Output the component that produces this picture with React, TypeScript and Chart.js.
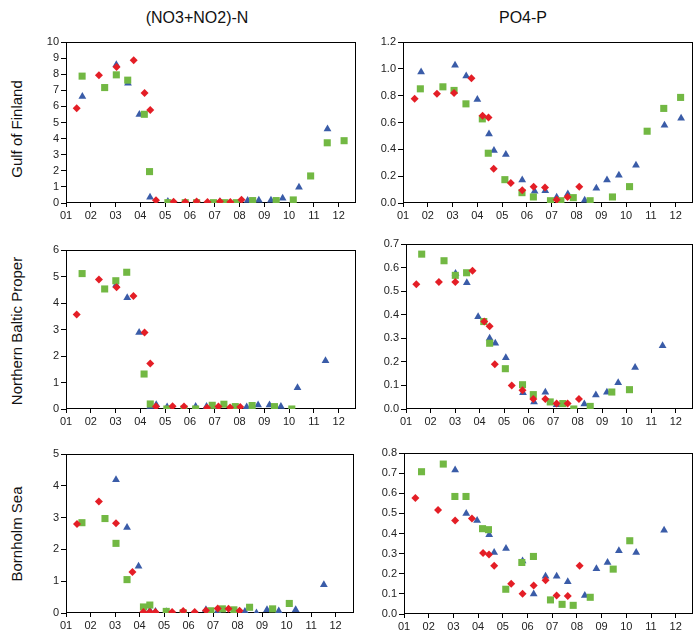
import React, { useEffect, useRef } from "react";
import { Chart, registerables } from "chart.js";
Chart.register(...registerables);

// ---------- DATA ----------
const monthTicks = [1, 2, 3, 4, 5, 6, 7, 8, 9, 10, 11, 12];
const monthLabels = ["01", "02", "03", "04", "05", "06", "07", "08", "09", "10", "11", "12"];

const columnTitles = ["(NO3+NO2)-N", "PO4-P"];
const rowTitles = ["Gulf of Finland", "Northern Baltic Proper", "Bornholm Sea"];

const nitTicksGof = [0, 1, 2, 3, 4, 5, 6, 7, 8, 9, 10];
const phoTicksGof = [0, 0.2, 0.4, 0.6, 0.8, 1.0, 1.2];
const nitTicksNbp = [0, 1, 2, 3, 4, 5, 6];
const phoTicksNbp = [0, 0.1, 0.2, 0.3, 0.4, 0.5, 0.6, 0.7];
const nitTicksBs = [0, 1, 2, 3, 4, 5];
const phoTicksBs = [0, 0.1, 0.2, 0.3, 0.4, 0.5, 0.6, 0.7, 0.8];

// Gulf of Finland, (NO3+NO2)-N
const gofNitRed = [[1.43, 5.88], [2.33, 7.94], [3.04, 8.44], [3.73, 8.86], [4.17, 6.84], [4.40, 5.78], [4.63, 0.17], [5.34, 0.08], [5.81, 0.06], [6.27, 0.10], [6.71, 0.06], [7.21, 0.10], [7.63, 0.06], [8.08, 0.20]];
const gofNitBlue = [[1.66, 6.61], [3.03, 8.59], [3.50, 7.44], [3.96, 5.49], [4.39, 0.35], [5.11, 0.10], [7.21, 0.08], [8.33, 0.15], [8.78, 0.17], [9.27, 0.17], [9.74, 0.29], [10.40, 0.98], [11.55, 4.59]];
const gofNitGreen = [[1.65, 7.88], [2.56, 7.17], [3.03, 7.96], [3.49, 7.63], [4.16, 5.51], [4.37, 1.95], [5.11, 0.02], [5.81, 0.02], [6.27, 0.02], [6.95, 0.02], [7.41, 0.02], [7.87, 0.02], [8.53, 0.15], [9.48, 0.15], [10.17, 0.19], [10.87, 1.68], [11.54, 3.74], [12.22, 3.87]];

// Gulf of Finland, PO4-P
const gofPhoRed = [[1.47, 0.777], [2.37, 0.814], [3.06, 0.82], [3.76, 0.929], [4.21, 0.65], [4.45, 0.637], [4.66, 0.256], [5.35, 0.149], [5.81, 0.095], [6.27, 0.122], [6.73, 0.115], [7.20, 0.025], [7.64, 0.045], [8.11, 0.122]];
const gofPhoBlue = [[1.73, 0.976], [3.10, 1.026], [3.55, 0.946], [4.00, 0.772], [4.47, 0.515], [4.67, 0.391], [5.15, 0.361], [5.81, 0.172], [6.31, 0.087], [6.74, 0.092], [7.20, 0.042], [7.65, 0.067], [8.33, 0.02], [8.80, 0.11], [9.23, 0.172], [9.71, 0.207], [10.40, 0.281], [11.55, 0.58], [12.22, 0.632]];
const gofPhoGreen = [[1.70, 0.851], [2.61, 0.866], [3.06, 0.839], [3.54, 0.739], [4.20, 0.627], [4.44, 0.371], [5.11, 0.174], [5.80, 0.077], [6.26, 0.045], [6.95, 0.017], [7.37, 0.017], [7.87, 0.04], [8.55, 0.017], [9.45, 0.045], [10.14, 0.122], [10.85, 0.535], [11.52, 0.705], [12.20, 0.787]];

// Northern Baltic Proper, (NO3+NO2)-N
const nbpNitRed = [[1.43, 3.57], [2.33, 4.89], [3.04, 4.59], [3.72, 4.26], [4.17, 2.89], [4.40, 1.72], [4.63, 0.09], [5.30, 0.10], [5.76, 0.09], [6.69, 0.05], [7.15, 0.09], [7.62, 0.06], [8.03, 0.08]];
const nbpNitBlue = [[3.02, 4.68], [3.47, 4.20], [3.95, 2.89], [4.40, 0.09], [4.64, 0.16], [5.08, 0.08], [6.23, 0.09], [6.67, 0.09], [7.13, 0.01], [8.29, 0.08], [8.75, 0.15], [9.21, 0.15], [9.67, 0.09], [10.34, 0.80], [11.47, 1.82]];
const nbpNitGreen = [[1.65, 5.11], [2.56, 4.53], [3.01, 4.84], [3.45, 5.16], [4.15, 1.32], [4.40, 0.19], [5.07, 0.0], [5.76, 0.0], [6.23, 0.0], [6.90, 0.14], [7.37, 0.18], [7.83, 0.09], [8.51, 0.13], [9.41, 0.09], [10.11, 0.0]];

// Northern Baltic Proper, PO4-P
const nbpPhoRed = [[1.42, 0.529], [2.34, 0.539], [3.01, 0.539], [3.71, 0.587], [4.19, 0.371], [4.41, 0.351], [4.62, 0.19], [5.31, 0.10], [5.75, 0.08], [6.19, 0.042], [6.68, 0.042], [7.14, 0.023], [7.59, 0.023], [8.05, 0.042]];
const nbpPhoBlue = [[3.02, 0.575], [3.48, 0.536], [3.94, 0.391], [4.41, 0.30], [4.64, 0.279], [5.07, 0.217], [5.77, 0.069], [6.22, 0.03], [6.68, 0.071], [7.14, 0.018], [8.27, 0.021], [8.74, 0.059], [9.19, 0.071], [9.65, 0.111], [10.34, 0.176], [11.46, 0.268]];
const nbpPhoGreen = [[1.64, 0.657], [2.55, 0.629], [3.01, 0.567], [3.47, 0.578], [4.17, 0.371], [4.41, 0.279], [5.05, 0.171], [5.75, 0.103], [6.19, 0.061], [6.88, 0.03], [7.39, 0.023], [7.84, 0.0], [8.51, 0.011], [9.39, 0.072], [10.11, 0.082]];

// Bornholm Sea, (NO3+NO2)-N
const bsNitRed = [[1.45, 2.80], [2.34, 3.51], [3.04, 2.82], [3.71, 1.29], [4.16, 0.03], [4.42, 0.03], [4.65, 0.03], [5.33, 0.03], [5.78, 0.06], [6.25, 0.03], [6.71, 0.08], [7.19, 0.14], [7.63, 0.13], [8.08, 0.07]];
const bsNitBlue = [[3.04, 4.19], [3.49, 2.69], [3.96, 1.47], [4.42, 0.08], [4.65, 0.05], [5.09, 0.04], [6.71, 0.10], [7.19, 0.06], [8.30, 0.05], [8.77, 0.0], [9.20, 0.10], [9.68, 0.06], [10.37, 0.10], [11.52, 0.89]];
const bsNitGreen = [[1.65, 2.84], [2.59, 2.97], [3.04, 2.19], [3.49, 1.05], [4.16, 0.19], [4.42, 0.25], [5.09, 0.05], [5.78, 0.01], [6.91, 0.07], [7.38, 0.13], [7.85, 0.10], [8.49, 0.18], [9.43, 0.13], [10.11, 0.30]];

// Bornholm Sea, PO4-P
const bsPhoRed = [[1.46, 0.576], [2.38, 0.517], [3.07, 0.464], [3.75, 0.474], [4.20, 0.303], [4.44, 0.296], [4.65, 0.24], [5.34, 0.15], [5.80, 0.101], [6.25, 0.141], [6.73, 0.168], [7.18, 0.092], [7.63, 0.09], [8.11, 0.24]];
const bsPhoBlue = [[3.07, 0.715], [3.52, 0.50], [3.96, 0.464], [4.45, 0.394], [4.65, 0.306], [5.13, 0.326], [5.80, 0.263], [6.25, 0.10], [6.73, 0.188], [7.18, 0.188], [7.63, 0.16], [8.32, 0.092], [8.79, 0.225], [9.24, 0.256], [9.70, 0.314], [10.40, 0.306], [11.53, 0.416]];
const bsPhoGreen = [[1.71, 0.707], [2.59, 0.745], [3.06, 0.584], [3.51, 0.584], [4.18, 0.424], [4.42, 0.419], [5.12, 0.123], [5.77, 0.256], [6.24, 0.286], [6.93, 0.07], [7.40, 0.048], [7.85, 0.043], [8.54, 0.083], [9.47, 0.223], [10.14, 0.364]];

// ---------- STYLE ----------
const RED = "#e41e26";
const BLUE = "#3a5ca8";
const GREEN = "#72b843";
const FONT = "'Liberation Sans', Arial, sans-serif";

const PAD_L = 45;
const PAD_T = 10;
const PAD_R = 10;
const PAD_B = 25;

const framePlugin = {
  id: "frame",
  beforeDatasetsDraw(chart: any) {
    const { ctx, chartArea } = chart;
    const l = Math.round(chartArea.left) + 0.5;
    const t = Math.round(chartArea.top) + 0.5;
    const r = Math.round(chartArea.right) - 0.5;
    const b = Math.round(chartArea.bottom) - 0.5;
    ctx.save();
    ctx.strokeStyle = "#000";
    ctx.lineWidth = 1;
    ctx.strokeRect(l, t, r - l, b - t);
    ctx.restore();
  },
};

type PanelProps = {
  area: { l: number; r: number; t: number; b: number };
  red: number[][];
  blue: number[][];
  green: number[][];
  yTicks: number[];
  decimals: number;
  xMax: number;
};

function toPts(a: number[][]) {
  return a.map((p) => ({ x: p[0], y: p[1] }));
}

function Panel({ area, red, blue, green, yTicks, decimals, xMax }: PanelProps) {
  const ref = useRef<HTMLCanvasElement | null>(null);
  const w = area.r - area.l + PAD_L + PAD_R;
  const h = area.b - area.t + PAD_T + PAD_B;
  useEffect(() => {
    if (!ref.current) return;
    const tickFont = { family: FONT, size: 11 };
    const chart = new Chart(ref.current, {
      type: "scatter",
      data: {
        datasets: [
          { data: toPts(red), pointStyle: "rectRot", pointRadius: 4, backgroundColor: RED, borderColor: RED, borderWidth: 0 },
          { data: toPts(green), pointStyle: "rect", pointRadius: 5, backgroundColor: GREEN, borderColor: GREEN, borderWidth: 0 },
          { data: toPts(blue), pointStyle: "triangle", pointRadius: 4.5, backgroundColor: BLUE, borderColor: BLUE, borderWidth: 0 },
        ],
      },
      options: {
        animation: false,
        responsive: false,
        events: [],
        layout: { padding: { top: PAD_T, right: PAD_R, left: 0, bottom: 0 } },
        plugins: { legend: { display: false }, tooltip: { enabled: false } },
        scales: {
          x: {
            type: "linear",
            min: 1,
            max: xMax,
            afterBuildTicks: (s: any) => {
              s.ticks = monthTicks.map((v) => ({ value: v }));
            },
            afterFit: (s: any) => {
              s.height = PAD_B;
            },
            ticks: {
              autoSkip: false,
              maxRotation: 0,
              padding: 2,
              color: "#222",
              font: tickFont,
              callback: (v: any) => monthLabels[monthTicks.indexOf(Number(v))] ?? "",
            },
            grid: { drawOnChartArea: false, drawTicks: true, tickLength: 4, color: "#000" },
            border: { display: false },
          },
          y: {
            type: "linear",
            min: yTicks[0],
            max: yTicks[yTicks.length - 1],
            afterBuildTicks: (s: any) => {
              s.ticks = yTicks.map((v) => ({ value: v }));
            },
            afterFit: (s: any) => {
              s.width = PAD_L;
            },
            ticks: {
              autoSkip: false,
              padding: 2,
              color: "#222",
              font: tickFont,
              callback: (v: any) => Number(v).toFixed(decimals),
            },
            grid: { drawOnChartArea: false, drawTicks: true, tickLength: 5, color: "#000" },
            border: { display: false },
          },
        },
      },
      plugins: [framePlugin],
    } as any);
    return () => chart.destroy();
  }, []);
  return (
    <canvas
      ref={ref}
      width={w}
      height={h}
      style={{ position: "absolute", left: area.l - PAD_L, top: area.t - PAD_T, width: w, height: h }}
    />
  );
}

const textStyle: React.CSSProperties = {
  position: "absolute",
  fontFamily: FONT,
  color: "#111",
  whiteSpace: "nowrap",
  transform: "translate(-50%, -50%)",
};

export default function App() {
  return (
    <div style={{ position: "absolute", left: 0, top: 0, width: 700, height: 640, background: "#fff", overflow: "hidden" }}>
      <div style={{ ...textStyle, left: 197, top: 18, fontSize: 16 }}>{columnTitles[0]}</div>
      <div style={{ ...textStyle, left: 523, top: 18, fontSize: 16 }}>{columnTitles[1]}</div>
      <div style={{ ...textStyle, left: 16, top: 129, fontSize: 15, transform: "translate(-50%, -50%) rotate(-90deg)" }}>{rowTitles[0]}</div>
      <div style={{ ...textStyle, left: 16, top: 331, fontSize: 15, transform: "translate(-50%, -50%) rotate(-90deg)" }}>{rowTitles[1]}</div>
      <div style={{ ...textStyle, left: 16, top: 534, fontSize: 15, transform: "translate(-50%, -50%) rotate(-90deg)" }}>{rowTitles[2]}</div>

      <Panel area={{ l: 66, r: 356, t: 42, b: 203 }} red={gofNitRed} blue={gofNitBlue} green={gofNitGreen} yTicks={nitTicksGof} decimals={0} xMax={12.7} />
      <Panel area={{ l: 403, r: 693, t: 42, b: 203 }} red={gofPhoRed} blue={gofPhoBlue} green={gofPhoGreen} yTicks={phoTicksGof} decimals={1} xMax={12.7} />
      <Panel area={{ l: 66, r: 356, t: 250, b: 409 }} red={nbpNitRed} blue={nbpNitBlue} green={nbpNitGreen} yTicks={nitTicksNbp} decimals={0} xMax={12.7} />
      <Panel area={{ l: 406, r: 693, t: 244, b: 409 }} red={nbpPhoRed} blue={nbpPhoBlue} green={nbpPhoGreen} yTicks={phoTicksNbp} decimals={1} xMax={12.7} />
      <Panel area={{ l: 66, r: 354, t: 454, b: 613 }} red={bsNitRed} blue={bsNitBlue} green={bsNitGreen} yTicks={nitTicksBs} decimals={0} xMax={12.75} />
      <Panel area={{ l: 404, r: 693, t: 453, b: 614 }} red={bsPhoRed} blue={bsPhoBlue} green={bsPhoGreen} yTicks={phoTicksBs} decimals={1} xMax={12.7} />
    </div>
  );
}
